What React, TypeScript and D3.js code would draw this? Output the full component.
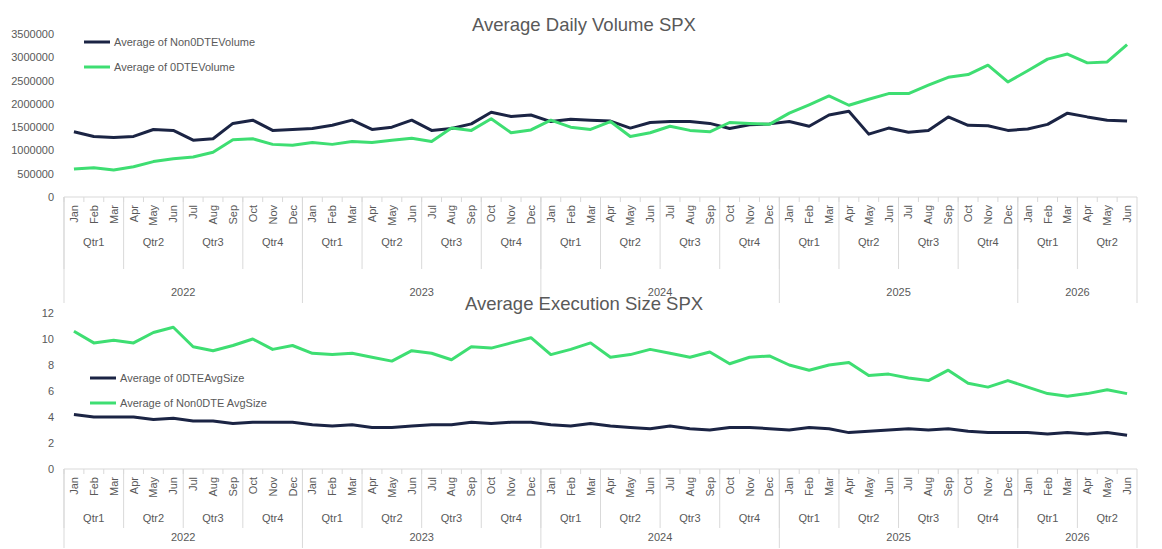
import React from 'react';
import * as d3 from 'd3';

const years = ['2022', '2023', '2024', '2025', '2026'];
const monthNames = ['Jan', 'Feb', 'Mar', 'Apr', 'May', 'Jun', 'Jul', 'Aug', 'Sep', 'Oct', 'Nov', 'Dec'];
const months: { y: string; m: string; q: string }[] = [];
years.forEach(y => monthNames.forEach((m, i) => {
  if (y === '2026' && i > 5) return;
  months.push({ y, m, q: 'Qtr' + (Math.floor(i / 3) + 1) });
}));

const non0Volume = [
  1400000, 1300000, 1280000, 1300000, 1450000, 1430000, 1220000, 1250000, 1580000, 1650000, 1430000, 1450000,
  1470000, 1540000, 1650000, 1450000, 1500000, 1650000, 1430000, 1470000, 1570000, 1820000, 1730000, 1760000,
  1620000, 1670000, 1650000, 1630000, 1480000, 1600000, 1620000, 1620000, 1580000, 1470000, 1550000, 1570000,
  1620000, 1520000, 1760000, 1840000, 1350000, 1480000, 1390000, 1430000, 1720000, 1540000, 1530000, 1430000,
  1460000, 1560000, 1800000, 1720000, 1650000, 1630000,
];
const zeroVolume = [
  600000, 630000, 580000, 650000, 760000, 820000, 860000, 960000, 1230000, 1250000, 1130000, 1110000,
  1170000, 1130000, 1190000, 1170000, 1220000, 1260000, 1190000, 1480000, 1430000, 1680000, 1380000, 1440000,
  1650000, 1500000, 1450000, 1620000, 1300000, 1380000, 1520000, 1430000, 1400000, 1600000, 1580000, 1560000,
  1800000, 1980000, 2170000, 1970000, 2100000, 2220000, 2220000, 2400000, 2570000, 2630000, 2830000, 2470000,
  2710000, 2960000, 3070000, 2880000, 2900000, 3270000,
];
const zeroAvgSize = [
  4.2, 4.0, 4.0, 4.0, 3.8, 3.9, 3.7, 3.7, 3.5, 3.6, 3.6, 3.6,
  3.4, 3.3, 3.4, 3.2, 3.2, 3.3, 3.4, 3.4, 3.6, 3.5, 3.6, 3.6,
  3.4, 3.3, 3.5, 3.3, 3.2, 3.1, 3.3, 3.1, 3.0, 3.2, 3.2, 3.1,
  3.0, 3.2, 3.1, 2.8, 2.9, 3.0, 3.1, 3.0, 3.1, 2.9, 2.8, 2.8,
  2.8, 2.7, 2.8, 2.7, 2.8, 2.6,
];
const non0AvgSize = [
  10.6, 9.7, 9.9, 9.7, 10.5, 10.9, 9.4, 9.1, 9.5, 10.0, 9.2, 9.5,
  8.9, 8.8, 8.9, 8.6, 8.3, 9.1, 8.9, 8.4, 9.4, 9.3, 9.7, 10.1,
  8.8, 9.2, 9.7, 8.6, 8.8, 9.2, 8.9, 8.6, 9.0, 8.1, 8.6, 8.7,
  8.0, 7.6, 8.0, 8.2, 7.2, 7.3, 7.0, 6.8, 7.6, 6.6, 6.3, 6.8,
  6.3, 5.8, 5.6, 5.8, 6.1, 5.8,
];

const NAVY = '#1b2444';
const GREEN = '#3ede72';
const GREY = '#595959';
const LINE = '#d9d9d9';
const FONT = '"Liberation Sans", Arial, sans-serif';

interface Series { name: string; values: number[]; color: string }
interface PanelProps {
  top: number; title: string; yMax: number; yStep: number; plotH: number;
  series: Series[]; legendX: number; legendY: number;
  qOff: number; yrOff: number; qLineOff: number; bottomOff: number;
}

const X0 = 64, X1 = 1137;
const x = d3.scaleBand<number>().domain(d3.range(months.length)).range([X0, X1]);

const groups = (key: (i: number) => string) => {
  const out: { s: number; e: number }[] = [];
  let last = '';
  months.forEach((_, i) => {
    const k = key(i);
    if (out.length && last === k) out[out.length - 1].e = i + 1;
    else out.push({ s: i, e: i + 1 });
    last = k;
  });
  return out;
};

const Panel: React.FC<PanelProps> = ({ top, title, yMax, yStep, plotH, series, legendX, legendY, qOff, yrOff, qLineOff, bottomOff }) => {
  const y0 = top + plotH;
  const y = d3.scaleLinear().domain([0, yMax]).range([y0, top]);
  const ticks = d3.range(0, yMax + yStep / 2, yStep);
  const line = d3.line<number>().x((_, i) => x(i)! + x.bandwidth() / 2).y(d => y(d));
  const bottom = y0 + bottomOff;
  const step = x.bandwidth();
  const quarters = groups(i => months[i].y + months[i].q);
  const yrs = groups(i => months[i].y);
  return (
    <g fontFamily={FONT}>
      <text x={584} y={top - 3} textAnchor="middle" fontSize={18.5} fill={GREY}>{title}</text>
      {ticks.map(t => (
        <text key={t} x={X0 - 10} y={y(t) + 4} textAnchor="end" fontSize={11} fill={GREY}>{t}</text>
      ))}
      <line x1={X0} x2={X1} y1={y0} y2={y0} stroke={LINE} />
      {months.map((m, i) => (
        <g key={i}>
          <line x1={x(i)!} x2={x(i)!} y1={y0} y2={y0 + 5} stroke={LINE} />
          <text transform={`translate(${x(i)! + step / 2 + 4},${y0 + 8}) rotate(-90)`} textAnchor="end" fontSize={11} fill={GREY}>{m.m}</text>
        </g>
      ))}
      <line x1={X1} x2={X1} y1={y0} y2={bottom} stroke={LINE} />
      {quarters.map((g, i) => (
        <g key={i}>
          <line x1={x(g.s)!} x2={x(g.s)!} y1={y0} y2={y0 + qLineOff} stroke={LINE} />
          <text x={x(g.s)! + (g.e - g.s) * step / 2} y={y0 + qOff + 4} textAnchor="middle" fontSize={11} fill={GREY}>{months[g.s].q}</text>
        </g>
      ))}
      {yrs.map((g, i) => (
        <g key={i}>
          <line x1={x(g.s)!} x2={x(g.s)!} y1={y0} y2={bottom} stroke={LINE} />
          <text x={x(g.s)! + (g.e - g.s) * step / 2} y={y0 + yrOff + 4} textAnchor="middle" fontSize={11} fill={GREY}>{months[g.s].y}</text>
        </g>
      ))}
      {series.map(s => (
        <path key={s.name} d={line(s.values)!} fill="none" stroke={s.color} strokeWidth={3} strokeLinejoin="round" />
      ))}
      {series.map((s, i) => (
        <g key={s.name} transform={`translate(${legendX},${legendY + i * 25})`}>
          <line x1={0} x2={26} y1={0} y2={0} stroke={s.color} strokeWidth={3} />
          <text x={30} y={4} fontSize={11} fill={GREY}>{s.name}</text>
        </g>
      ))}
    </g>
  );
};

export default function App() {
  return (
    <svg width={1162} height={549} style={{ position: 'absolute', left: 0, top: 0, background: '#fff' }}>
      <Panel top={34} plotH={163} title="Average Daily Volume SPX" yMax={3500000} yStep={500000}
        legendX={84} legendY={42} qOff={45} yrOff={95} qLineOff={72} bottomOff={106}
        series={[
          { name: 'Average of Non0DTEVolume', values: non0Volume, color: NAVY },
          { name: 'Average of 0DTEVolume', values: zeroVolume, color: GREEN },
        ]} />
      <Panel top={313} plotH={156} title="Average Execution Size SPX" yMax={12} yStep={2}
        legendX={90} legendY={378} qOff={49} yrOff={68} qLineOff={59} bottomOff={79}
        series={[
          { name: 'Average of 0DTEAvgSize', values: zeroAvgSize, color: NAVY },
          { name: 'Average of Non0DTE AvgSize', values: non0AvgSize, color: GREEN },
        ]} />
    </svg>
  );
}
